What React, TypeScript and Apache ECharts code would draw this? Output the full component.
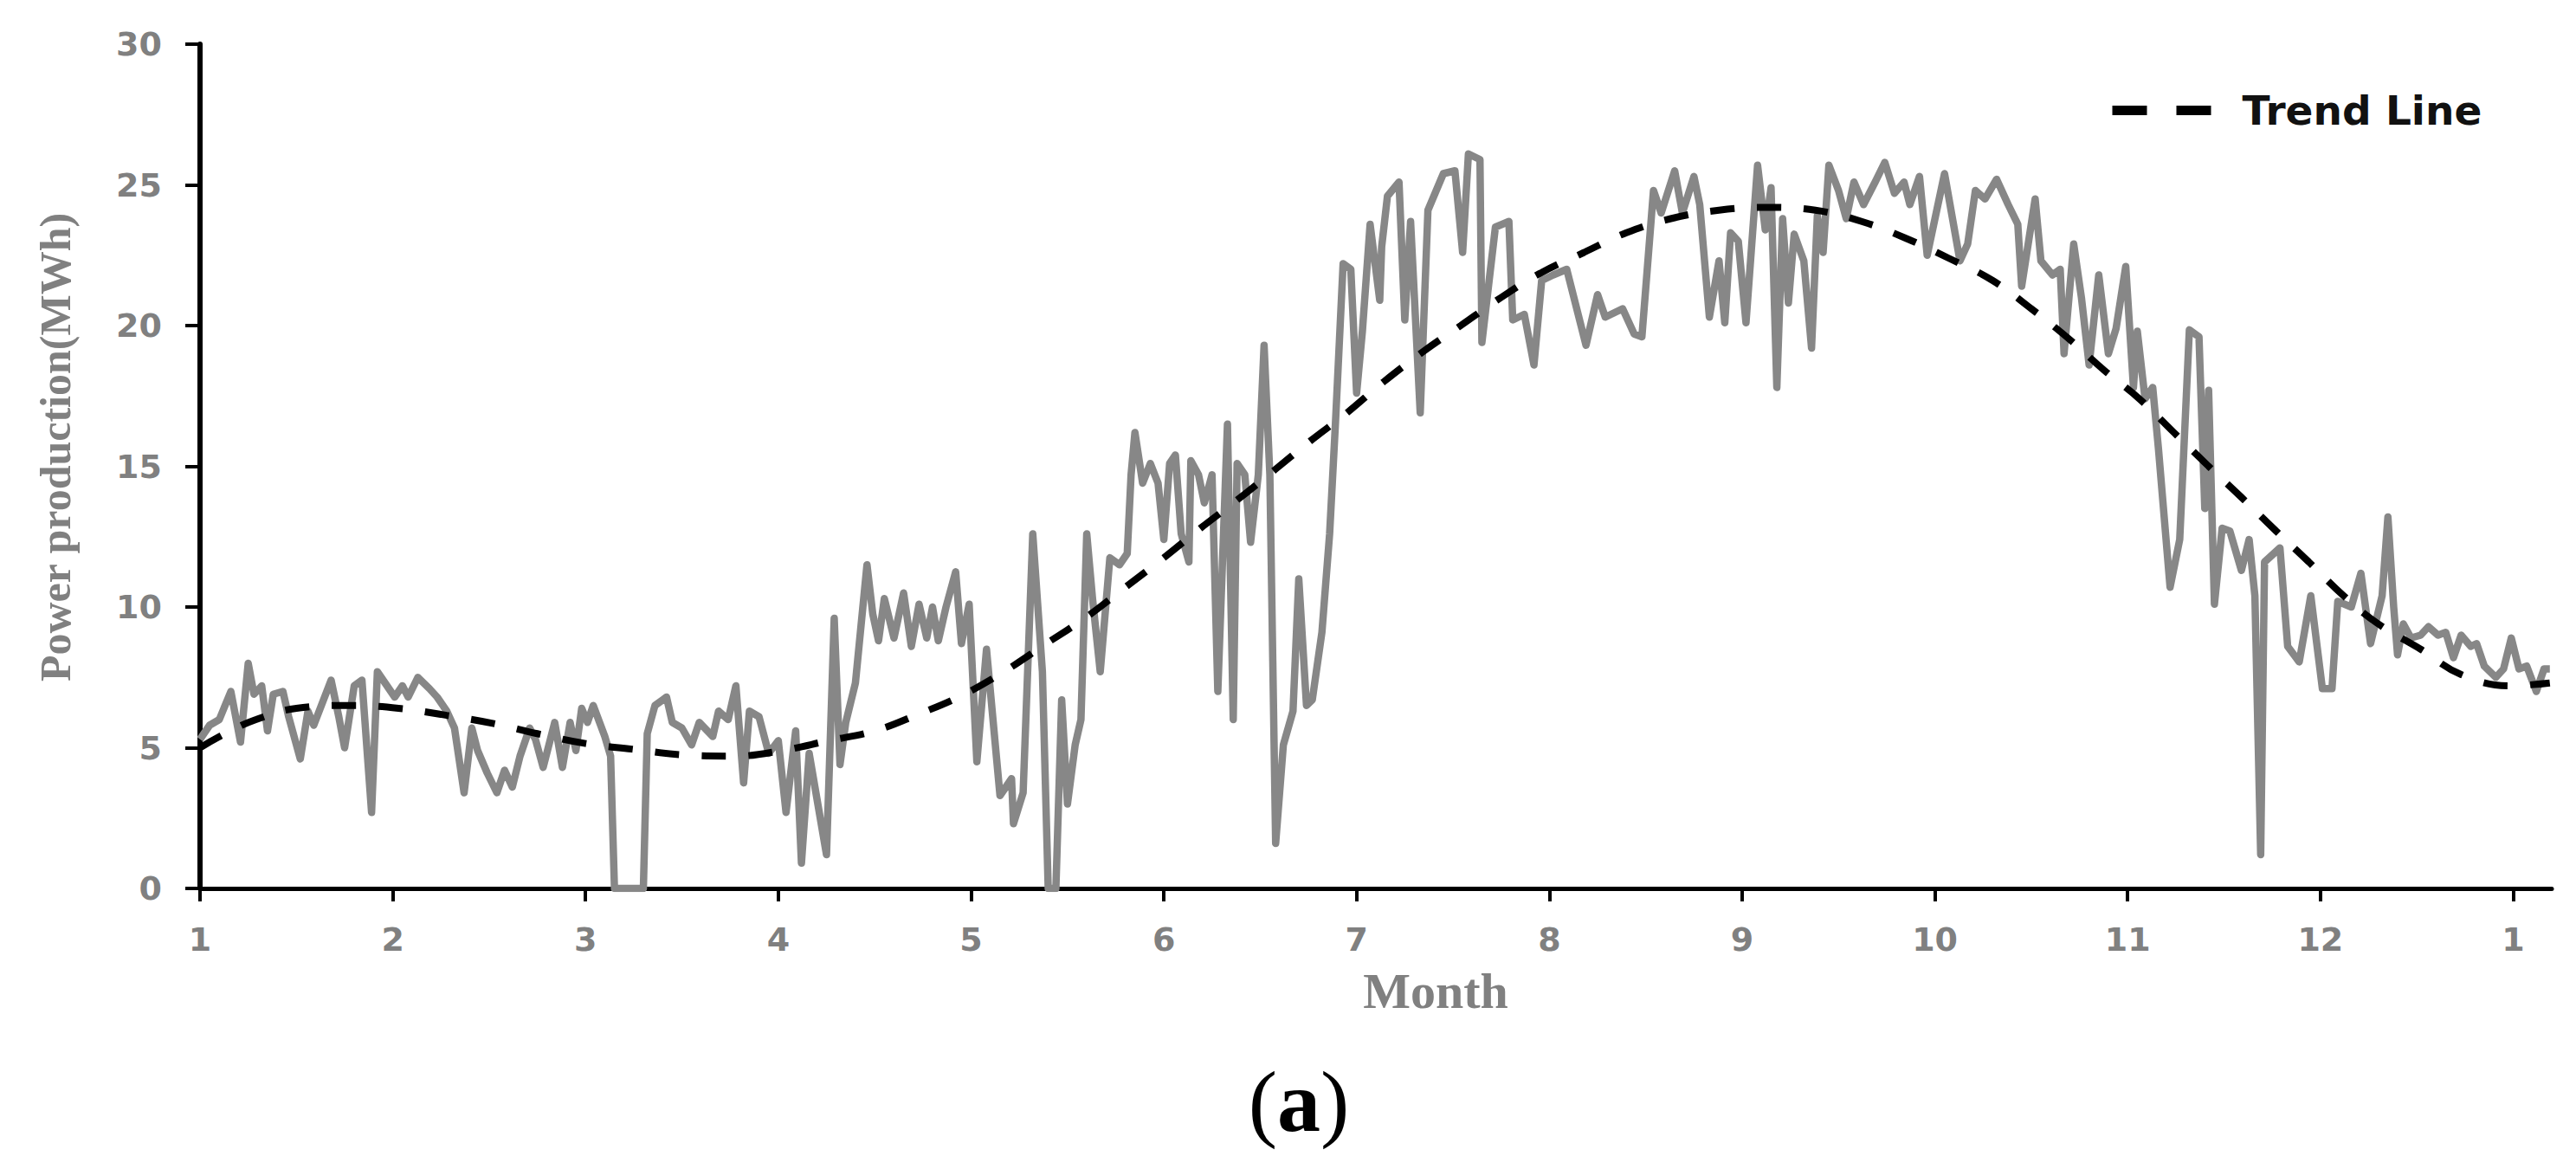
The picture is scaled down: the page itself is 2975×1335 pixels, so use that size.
import React, { useEffect, useRef } from "react";
import * as echarts from "echarts";

const monthTicks = [1, 2, 3, 4, 5, 6, 7, 8, 9, 10, 11, 12, 13];
const monthTickLabels = ["1", "2", "3", "4", "5", "6", "7", "8", "9", "10", "11", "12", "1"];

// [month position, MWh]
const powerData: [number, number][] = [
  [1.0, 5.3], [1.05, 5.8], [1.1, 6.0], [1.16, 7.0], [1.21, 5.2], [1.25, 8.0], [1.28, 6.9], [1.32, 7.2],
  [1.35, 5.6], [1.38, 6.9], [1.43, 7.0], [1.46, 6.1], [1.52, 4.6], [1.56, 6.3], [1.59, 5.8], [1.68, 7.4],
  [1.72, 6.1], [1.75, 5.0], [1.8, 7.2], [1.84, 7.4], [1.89, 2.7], [1.92, 7.7], [1.96, 7.3], [2.01, 6.8],
  [2.05, 7.2], [2.08, 6.8], [2.13, 7.5], [2.19, 7.1], [2.23, 6.8], [2.28, 6.3], [2.32, 5.7], [2.37, 3.4],
  [2.41, 5.7], [2.44, 4.9], [2.49, 4.1], [2.54, 3.4], [2.58, 4.2], [2.62, 3.6], [2.66, 4.7], [2.71, 5.7],
  [2.74, 5.3], [2.78, 4.3], [2.84, 5.9], [2.88, 4.3], [2.92, 5.9], [2.95, 4.9], [2.98, 6.4], [3.01, 5.9],
  [3.04, 6.5], [3.1, 5.4], [3.13, 4.7], [3.15, 0], [3.3, 0], [3.32, 5.5], [3.36, 6.5], [3.42, 6.8],
  [3.45, 5.9], [3.5, 5.7], [3.55, 5.1], [3.59, 5.9], [3.66, 5.4], [3.69, 6.3], [3.74, 6.0], [3.78, 7.2],
  [3.82, 3.75], [3.85, 6.3], [3.9, 6.1], [3.95, 4.8], [4.0, 5.25], [4.04, 2.7], [4.09, 5.6], [4.12, 0.9],
  [4.16, 4.8], [4.19, 3.6], [4.25, 1.2], [4.29, 9.6], [4.32, 4.4], [4.35, 5.9], [4.4, 7.3], [4.46, 11.5],
  [4.49, 9.75], [4.52, 8.8], [4.55, 10.3], [4.6, 8.9], [4.65, 10.5], [4.69, 8.6], [4.73, 10.1], [4.77, 8.9],
  [4.8, 10.0], [4.83, 8.8], [4.87, 10.0], [4.92, 11.25], [4.95, 8.7], [4.99, 10.1], [5.03, 4.5], [5.08, 8.5],
  [5.15, 3.3], [5.21, 3.9], [5.22, 2.3], [5.27, 3.4], [5.32, 12.6], [5.37, 7.7], [5.4, 0], [5.44, 0],
  [5.47, 6.7], [5.5, 3.0], [5.54, 5.1], [5.57, 6.0], [5.6, 12.6], [5.63, 10.3], [5.67, 7.7], [5.72, 11.75],
  [5.77, 11.5], [5.81, 11.9], [5.83, 14.7], [5.85, 16.2], [5.89, 14.4], [5.93, 15.1], [5.97, 14.4], [6.0, 12.4],
  [6.03, 15.1], [6.06, 15.4], [6.09, 12.6], [6.13, 11.6], [6.14, 15.2], [6.18, 14.7], [6.21, 13.7], [6.25, 14.7],
  [6.28, 7.0], [6.33, 16.5], [6.36, 6.0], [6.38, 15.1], [6.42, 14.7], [6.45, 12.3], [6.49, 14.7], [6.52, 19.3],
  [6.55, 14.7], [6.58, 1.6], [6.62, 5.1], [6.67, 6.3], [6.7, 11.0], [6.74, 6.5], [6.77, 6.7], [6.82, 9.1],
  [6.86, 12.6], [6.89, 16.5], [6.93, 22.2], [6.97, 22.0], [7.0, 17.6], [7.03, 19.8], [7.07, 23.6], [7.12, 20.9],
  [7.13, 22.8], [7.16, 24.6], [7.22, 25.1], [7.25, 20.2], [7.28, 23.7], [7.33, 16.9], [7.37, 24.1], [7.45, 25.4],
  [7.51, 25.5], [7.55, 22.6], [7.58, 26.1], [7.64, 25.9], [7.65, 19.4], [7.72, 23.5], [7.79, 23.7], [7.81, 20.2],
  [7.87, 20.4], [7.92, 18.6], [7.96, 21.6], [8.02, 21.8], [8.09, 22.0], [8.19, 19.3], [8.25, 21.1], [8.29, 20.3],
  [8.38, 20.6], [8.44, 19.7], [8.48, 19.6], [8.54, 24.8], [8.58, 24.0], [8.65, 25.5], [8.69, 24.0], [8.75, 25.3],
  [8.78, 24.3], [8.83, 20.3], [8.88, 22.3], [8.91, 20.1], [8.94, 23.3], [8.98, 23.0], [9.02, 20.1], [9.08, 25.7],
  [9.12, 23.4], [9.15, 24.9], [9.18, 17.8], [9.21, 23.8], [9.24, 20.8], [9.27, 23.25], [9.32, 22.3], [9.36, 19.2],
  [9.39, 23.9], [9.42, 22.6], [9.45, 25.7], [9.5, 24.8], [9.54, 23.8], [9.58, 25.1], [9.63, 24.3], [9.69, 25.1],
  [9.74, 25.8], [9.79, 24.7], [9.84, 25.1], [9.87, 24.3], [9.92, 25.3], [9.96, 22.5], [10.05, 25.4], [10.13, 22.3],
  [10.17, 22.9], [10.21, 24.8], [10.26, 24.5], [10.32, 25.2], [10.38, 24.3], [10.43, 23.6], [10.45, 21.4], [10.52, 24.5],
  [10.55, 22.3], [10.61, 21.8], [10.65, 22.0], [10.67, 19.0], [10.72, 22.9], [10.76, 21.0], [10.8, 18.6], [10.85, 21.8],
  [10.9, 19.0], [10.94, 19.9], [10.99, 22.1], [11.03, 17.8], [11.05, 19.8], [11.09, 17.4], [11.13, 17.8], [11.16, 15.6],
  [11.22, 10.7], [11.27, 12.4], [11.32, 19.85], [11.37, 19.6], [11.4, 13.5], [11.42, 17.7], [11.45, 10.1], [11.49, 12.8],
  [11.53, 12.7], [11.59, 11.3], [11.63, 12.4], [11.66, 10.4], [11.69, 1.2], [11.71, 11.6], [11.79, 12.1], [11.83, 8.6],
  [11.89, 8.05], [11.95, 10.4], [12.01, 7.1], [12.06, 7.1], [12.09, 10.2], [12.16, 10.0], [12.21, 11.2], [12.26, 8.7],
  [12.32, 10.4], [12.35, 13.2], [12.38, 10.0], [12.4, 8.3], [12.43, 9.4], [12.47, 8.9], [12.52, 9.0], [12.56, 9.3],
  [12.61, 9.0], [12.65, 9.1], [12.69, 8.2], [12.73, 9.0], [12.78, 8.6], [12.81, 8.7], [12.85, 7.9], [12.91, 7.5],
  [12.95, 7.8], [12.99, 8.9], [13.03, 7.8], [13.07, 7.9], [13.12, 7.0], [13.16, 7.8], [13.19, 7.8],
];

const trendData: [number, number][] = [
  [1.0, 5.0], [1.13, 5.5], [1.29, 6.0], [1.5, 6.4], [1.78, 6.5], [2.03, 6.4], [2.28, 6.15], [2.53, 5.85],
  [2.75, 5.5], [3.0, 5.15], [3.24, 4.95], [3.5, 4.75], [3.77, 4.7], [4.02, 4.9], [4.26, 5.25], [4.5, 5.6],
  [4.73, 6.2], [4.95, 6.85], [5.17, 7.7], [5.39, 8.7], [5.6, 9.65], [5.8, 10.7], [6.0, 11.75], [6.19, 12.8],
  [6.38, 13.8], [6.58, 14.9], [6.76, 15.9], [6.95, 16.9], [7.14, 18.0], [7.35, 19.1], [7.54, 20.0], [7.75, 21.0],
  [7.95, 21.85], [8.18, 22.6], [8.4, 23.3], [8.63, 23.8], [8.88, 24.1], [9.12, 24.2], [9.38, 24.1], [9.62, 23.7],
  [9.85, 23.1], [10.07, 22.4], [10.3, 21.6], [10.5, 20.6], [10.7, 19.5], [10.88, 18.4], [11.06, 17.4], [11.24, 16.2],
  [11.42, 15.0], [11.59, 13.9], [11.77, 12.7], [11.94, 11.6], [12.12, 10.4], [12.3, 9.4], [12.52, 8.5], [12.73, 7.6],
  [12.98, 7.2], [13.19, 7.3],
];

export default function App() {
  const ref = useRef<HTMLDivElement>(null);
  useEffect(() => {
    document.body.style.margin = "0";
    const chart = echarts.init(ref.current as HTMLDivElement, null, { renderer: "svg" });
    const gray = "#808080";
    chart.setOption({
      animation: false,
      backgroundColor: "#ffffff",
      grid: { left: 231, right: 28, top: 51, bottom: 309, containLabel: false },
      legend: {
        data: ["Trend Line"],
        left: 2434,
        top: 104,
        padding: 0,
        selectedMode: false,
        itemWidth: 114,
        itemHeight: 12,
        itemStyle: { opacity: 0 },
        lineStyle: { color: "#000", width: 11, type: [40, 34], cap: "butt" },
        textStyle: {
          fontFamily: "DejaVu Sans",
          fontWeight: "bold",
          fontSize: 47,
          color: "#111",
          padding: [0, 0, 0, 31],
        },
      },
      xAxis: {
        type: "value",
        min: 1,
        max: 13.2,
        name: "Month",
        nameLocation: "middle",
        nameGap: 89,
        nameTextStyle: {
          fontFamily: "Liberation Serif",
          fontWeight: "bold",
          fontSize: 58,
          color: gray,
          padding: [0, 0, 0, 138],
        },
        axisLine: { show: true, onZero: false, lineStyle: { color: "#000", width: 5 } },
        axisTick: { show: true, customValues: monthTicks, length: 15, lineStyle: { color: "#000", width: 4 } },
        axisLabel: {
          customValues: monthTicks,
          formatter: (v: number) => {
            const i = monthTicks.indexOf(v);
            return i >= 0 ? monthTickLabels[i] : "";
          },
          margin: 40,
          fontFamily: "DejaVu Sans",
          fontWeight: "bold",
          fontSize: 38,
          color: gray,
        },
        splitLine: { show: false },
      },
      yAxis: {
        type: "value",
        min: 0,
        max: 30,
        interval: 5,
        name: "Power production(MWh)",
        nameLocation: "middle",
        nameRotate: 90,
        nameGap: 142,
        nameTextStyle: {
          fontFamily: "Liberation Serif",
          fontWeight: "bold",
          fontSize: 50,
          color: gray,
          padding: [0, 0, 0, 44],
        },
        axisLine: { show: true, onZero: false, lineStyle: { color: "#000", width: 6 } },
        axisTick: { show: true, length: 17, lineStyle: { color: "#000", width: 4 } },
        axisLabel: {
          margin: 44,
          fontFamily: "DejaVu Sans",
          fontWeight: "bold",
          fontSize: 38,
          color: gray,
        },
        splitLine: { show: false },
      },
      series: [
        {
          name: "Power production",
          type: "line",
          data: powerData,
          symbol: "none",
          showSymbol: false,
          itemStyle: { color: "#878787" },
          lineStyle: { color: "#878787", width: 8.5, join: "round" },
          z: 2,
        },
        {
          name: "Trend Line",
          type: "line",
          data: trendData,
          smooth: 0.4,
          symbol: "none",
          showSymbol: false,
          itemStyle: { color: "#000" },
          lineStyle: { color: "#000", width: 8, type: [28, 26] },
          z: 3,
        },
      ],
      graphic: [
        {
          type: "text",
          x: 1500,
          y: 1272,
          style: {
            text: "{p|(}{a|a}{p|)}",
            align: "center",
            verticalAlign: "middle",
            rich: {
              p: { fontFamily: "Liberation Serif", fontSize: 100, fill: "#000" },
              a: { fontFamily: "Liberation Serif", fontWeight: "bold", fontSize: 100, fill: "#000" },
            },
          },
        },
      ],
    });
    return () => chart.dispose();
  }, []);
  return (
    <div
      ref={ref}
      style={{ width: 2975, height: 1335, position: "absolute", left: 0, top: 0, background: "#fff" }}
    />
  );
}
